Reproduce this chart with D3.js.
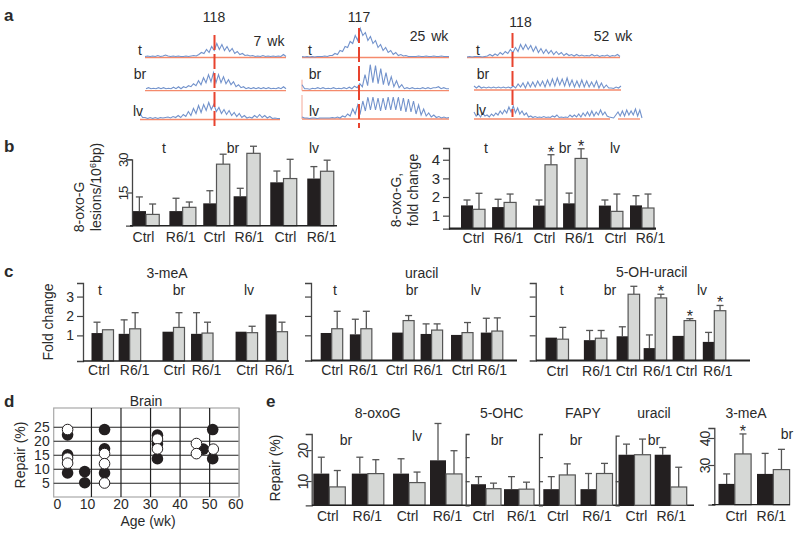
<!DOCTYPE html>
<html>
<head>
<meta charset="utf-8">
<script src="https://cdn.jsdelivr.net/npm/d3@7"></script>
<style>
  html, body { margin: 0; background: #fff; }
  text { font-family: "Liberation Sans", Arial, sans-serif; fill: #2a2a2a; }
</style>
</head>
<body>
<div id="chart"></div>
<script>
// ---- data ----
const groups = ["Ctrl", "R6/1", "Ctrl", "R6/1", "Ctrl", "R6/1"];
const groups2 = ["Ctrl", "R6/1"];

// a: peak traces, signal above baseline
const a1t = [1,1.5,1,1.5,1,2,1,1.5,2.5,1.5,1,1.5,1,1.5,1,1,1.5,1,1.5,2,1.5,3,5,4,8,5,11,7,14,8,13,7,11,6,9,4,6,3,4,2,2.5,1.5,2,1,1.5,1,2,1,1.5,1,1.5,1,1.5,1,3,1];
const a1b = [2,3,2,2.5,2,3,2,3,2,2.5,2,3.5,2,4,2,4,3,5,4,7,5,10,6,13,8,16,9,18,8,16,8,14,7,11,6,9,4,6,3,4,2,3,2,3,2,3,2,3,2,3,2,2.5,2,3,2,4,2];
const a1l = [6,2,2,1,2,1,2,1,2,1.5,2,2.5,1.5,3,2,4,2,5,3,8,4,11,6,14,7,15,9,17,10,15,8,12,6,10,5,9,4,7,3,6,2,4,1.5,2.5,1.5,4,2,5,2,4,1.5,3,1,1.5,1,1];
const a2t = [1,0.5,1,0.5,1,0.5,1,1,1,1.5,1,2,2,4,3,7,6,11,10,16,14,22,17,29,22,25,17,21,14,17,10,13,7,10,5,7,3,5,2,3,1.5,2,1,1,1,1,1.5,1,1,1.5,1,1,1.5,1,1,1.5,1,1,1];
const a2b = [6,2,2,1.5,2.5,2,3,2,3,2,2.5,2,3,2,2.5,2,3,2,3.5,2,4.5,3,7,4,16,5,26,8,25,7,22,6,18,5,14,4,10,3,6,2,3,2,3,2,2.5,2,3,2,3,2,3,3,4,2,3,2,2];
const a2l = [2,1,1,0.5,1,1,0.5,1,1,1,1,1,1.5,1,2,1,3,2,5,3,10,5,14,6,18,8,22,9,22,9,21,8,21,9,22,9,22,9,22,8,21,7,20,7,18,5,14,4,10,3,6,2,4,1.5,2.5,1,2,1,1.5];
const a3t = [0.5,1,0.5,1,1,1,0.5,1,1.5,3,1.5,3.5,2,5,3,6,4,8,5,10,6,13,8,13,8,12,6,11,5,9,4,8,4,7,3,6,3,5,2,4,2,3,1.5,3,1.5,2.5,1.5,2,1.5,3,1.5,2.5,1,2,1.5,2.5,1,2,1.5,3,1];
const a3b = [4,2,4,2,3,2,3,2,3,2,3,2,3,2,3,2,4,2,6,3,7,2,8,3,8,3,9,4,9,3,10,4,11,4,12,5,11,4,12,4,10,3,9,3,10,3,9,3,8,3,9,2,7,2,5,2,2,1.5,3,2,4];
const a3l = [7,3,5,2,6,3,4,2,5,3,6,4,8,5,9,6,12,7,13,6,11,5,8,4,6,2,3,1.5,2.5,1.5,2,1.5,2.5,1.5,2,1.5,3,2,4,1.5,2,1.5,2,1.5,4,2,4,2,5,2,6,3,7,3,8,3,7,4,9,4,7,3,2,1.5,1,4,7,3,8,3,9,4,8,4,10,3,9,1];

// b: 8-oxo-G lesions
const b1Black = [6.6,6.6,10.1,13.3,19.6,21.3];
const b1BlackErr = [13,12.4,15.8,16.9,24.7,26.7];
const b1Gray = [5.1,8.3,27.8,32.7,21.3,24.6];
const b1GrayErr = [9.8,10.7,32.3,35.9,30,29.6];
// b: fold change
const b2Black = [1.55,1.46,1.54,1.66,1.54,1.55];
const b2BlackErr = [1.84,1.88,1.84,2.21,1.84,2.07];
const b2Gray = [1.34,1.71,3.73,4.07,1.23,1.41];
const b2GrayErr = [2.2,2.16,4.27,4.59,2.16,2.16];
const b2Stars = [0,0,1,1,0,0];

// c: 3-meA, uracil, 5-OH-uracil (null = no error bar printed)
const c1Black = [1.12,1.08,1.19,1.08,1.19,2.08];
const c1BlackErr = [1.68,1.8,null,2.17,null,null];
const c1Gray = [1.29,1.34,1.41,1.12,1.14,1.19];
const c1GrayErr = [null,2.17,2.17,1.68,1.47,1.68];
const c2Black = [1.12,1.05,1.14,1.07,1.02,1.14];
const c2BlackErr = [null,1.83,null,1.59,null,1.88];
const c2Gray = [1.34,1.34,1.76,1.27,1.14,1.22];
const c2GrayErr = [2.24,2.24,2.02,1.59,1.66,1.9];
const c3Black = [0.88,0.75,0.95,0.34,0.97,0.66];
const c3BlackErr = [null,1.25,1.44,1.02,null,1.15];
const c3Gray = [0.8,0.85,3.12,2.93,1.76,2.27];
const c3GrayErr = [1.41,1.25,3.53,3.12,1.86,2.54];
const c3Stars = [0,0,0,1,1,1];

// d: repair vs age
const dBlackWk = [2.1,2.1,2.1,7.9,7.9,14.6,14.6,14.6,32.5,32.5,32.5,48,51.2,51.2];
const dBlackRepair = [22.1,15,8.5,9,5,24,17.1,8.5,22,18.8,13.6,17,24,13.6];
const dWhiteWk = [2.1,2.1,2.1,14.6,14.6,14.6,32.5,32.5,45.7,45.7,51.4];
const dWhiteRepair = [24,13.8,12,15.4,11.8,4.9,20.6,17.1,19,15.4,17];

// e: repair per substrate
const e1Black = [12.4,12.4,12.4,16.7];
const e1BlackErr = [17.7,17.7,17.2,28.6];
const e1Gray = [8.1,12.4,9.5,12.3];
const e1GrayErr = [13.4,16.9,12.9,19.8];
const e2Black = [8.75,6.7];
const e2BlackErr = [11.9,11.9];
const e2Gray = [6.9,6.7];
const e2GrayErr = [9.2,9.6];
const e3Black = [6.7,6.7];
const e3BlackErr = [11.9,13.2];
const e3Gray = [12.6,13.2];
const e3GrayErr = [17.2,17.4];
const e4Black = [21,21];
const e4BlackErr = [25.4,24];
const e4Gray = [21,7.6];
const e4GrayErr = [27.5,15.8];
const e5Black = [23,26.7];
const e5BlackErr = [26.7,34.3];
const e5Gray = [34.1,28.3];
const e5GrayErr = [41.5,35.8];
const e5Stars = [1,0];

// ---- page ----
const svg = d3.select("#chart").append("svg")
  .attr("width", 800)
  .attr("height", 534)
  .style("display", "block");

function label(txt, x, y, opts) {
  opts = opts || {};
  const t = svg.append("text")
    .attr("text-anchor", opts.anchor || "middle")
    .style("font-size", (opts.size || 14) + "px")
    .style("font-weight", opts.bold ? "bold" : "normal")
    .attr("transform", "translate(" + x + "," + y + ")" + (opts.rot ? "rotate(-90)" : ""))
    .text(txt);
  return t;
}

// panel letters
label("a", 4, 21, {anchor: "start", size: 17, bold: true});
label("b", 4, 152, {anchor: "start", size: 17, bold: true});
label("c", 4, 277, {anchor: "start", size: 17, bold: true});
label("d", 4, 407, {anchor: "start", size: 17, bold: true});
label("e", 266, 407, {anchor: "start", size: 17, bold: true});

// ---- panel a ----
const traces = [
  {data: a1t, x: [145, 286], base: 57.5, line: [145, 286]},
  {data: a1b, x: [146, 286], base: 90.7, line: [145, 286]},
  {data: a1l, x: [140, 280], base: 119.5, line: [140, 280]},
  {data: a2t, x: [302, 449], base: 57.5, line: [302, 449]},
  {data: a2b, x: [302, 449], base: 90.7, line: [302, 449], spike: 11},
  {data: a2l, x: [302, 449], base: 119, line: [302, 449], spike: 24},
  {data: a3t, x: [467, 620], base: 57.5, line: [467, 620]},
  {data: a3b, x: [474, 621], base: 90, line: [474, 621]},
  {data: a3l, x: [474, 642], base: 119, line: [474, 610]},
  {data: [], x: [0, 1], base: 119, line: [618, 640]}
];
traces.forEach(function(tr) {
  const x = d3.scaleLinear().domain([0, Math.max(tr.data.length - 1, 1)]).range(tr.x);
  const y = d3.scaleLinear().domain([0, 30]).range([tr.base, tr.base - 30]);
  svg.append("line")
    .attr("x1", tr.line[0]).attr("x2", tr.line[1])
    .attr("y1", y(0)).attr("y2", y(0))
    .attr("stroke", "#f58a6c").attr("stroke-width", 1.3);
  if (tr.spike) {
    svg.append("line")
      .attr("x1", tr.x[0]).attr("x2", tr.x[0])
      .attr("y1", y(0)).attr("y2", y(tr.spike))
      .attr("stroke", "#f4a898").attr("stroke-width", 1);
  }
  svg.append("path")
    .datum(tr.data)
    .attr("d", d3.line().x(function(d, i) { return x(i); }).y(function(d) { return y(d); }))
    .attr("fill", "none")
    .attr("stroke", "#7393cc")
    .attr("stroke-width", 1.1);
});

[[214.5, 35, 128], [359, 28, 128], [512.5, 33, 117]].forEach(function(v) {
  svg.append("line")
    .attr("x1", v[0]).attr("x2", v[0])
    .attr("y1", v[1]).attr("y2", v[2])
    .attr("stroke", "#e8432e")
    .attr("stroke-width", 2)
    .attr("stroke-dasharray", "15 4");
});

label("118", 214, 22);
label("117", 359, 22);
label("118", 520.5, 27);
label("7 wk", 269, 46).style("word-spacing", "2px");
label("25 wk", 429, 41).style("word-spacing", "2px");
label("52 wk", 613, 41).style("word-spacing", "2px");
[[140, 55, "t"], [140, 79, "br"], [138, 116, "lv"],
 [310, 55, "t"], [315, 79, "br"], [314, 116, "lv"],
 [478, 55, "t"], [483, 79, "br"], [481, 115, "lv"]].forEach(function(l) {
  label(l[2], l[0], l[1]);
});

// ---- bar panels ----
function barPanel(p) {
  const n = p.black.length;
  const last = p.slots[p.slots.length - 1];
  const x = d3.scaleLinear().domain([0, last]).range(p.centers);
  const y = d3.scaleLinear().domain(p.yDomain).range(p.yRange);
  const side = d3.scaleBand().domain(["black", "gray"]).range([-p.half, p.half]);
  const g = svg.append("g");

  // error bars sit behind the bars
  [["black", p.blackErr, p.black], ["gray", p.grayErr, p.gray]].forEach(function(s) {
    d3.range(n).forEach(function(i) {
      if (s[1][i] === null) return;
      const cx = x(p.slots[i]) + side(s[0]) + side.bandwidth() / 2;
      g.append("line").attr("x1", cx).attr("x2", cx)
        .attr("y1", y(s[2][i])).attr("y2", y(s[1][i]))
        .attr("stroke", "#555").attr("stroke-width", 1.3);
      g.append("line").attr("x1", cx - 3.5).attr("x2", cx + 3.5)
        .attr("y1", y(s[1][i])).attr("y2", y(s[1][i]))
        .attr("stroke", "#555").attr("stroke-width", 1.3);
    });
  });

  d3.range(n).forEach(function(i) {
    const x0 = x(p.slots[i]);
    g.append("rect")
      .attr("x", x0 + side("black")).attr("y", y(p.black[i]))
      .attr("width", side.bandwidth()).attr("height", y(p.yDomain[0]) - y(p.black[i]))
      .attr("fill", "#231f20");
    g.append("rect")
      .attr("x", x0 + side("gray")).attr("y", y(p.gray[i]))
      .attr("width", side.bandwidth()).attr("height", y(p.yDomain[0]) - y(p.gray[i]))
      .attr("fill", "#d6d8d6").attr("stroke", "#555").attr("stroke-width", 1.2);
    if (p.stars && p.stars[i]) {
      g.append("text")
        .attr("x", x0 + side("gray") + side.bandwidth() / 2)
        .attr("y", y(p.grayErr[i]) + 3)
        .attr("text-anchor", "middle")
        .style("font-size", "16px")
        .text("*");
    }
  });

  // y axis
  const axisFn = p.axisRight ? d3.axisRight(y) : d3.axisLeft(y);
  const ax = g.append("g")
    .attr("transform", "translate(" + p.axisX + ",0)")
    .call(axisFn.tickValues(p.ticks).tickSizeOuter(0).tickSize(p.tickSize || 6).tickPadding(3)
      .tickFormat(p.tickLabels ? d3.format("d") : ""));
  ax.selectAll("line").attr("stroke", "#444").attr("stroke-width", 1.2);
  ax.select(".domain").attr("stroke", "#444").attr("stroke-width", 1.3);
  ax.selectAll("text")
    .style("font-size", (p.tickFont || 14) + "px")
    .attr("fill", null);
  if (p.rotTicks) {
    ax.selectAll("text")
      .attr("x", null).attr("dy", null)
      .attr("text-anchor", "middle")
      .attr("transform", "translate(" + p.rotTicks + ",0)rotate(-90)");
  }

  // baseline
  g.append("line")
    .attr("x1", p.baseX[0]).attr("x2", p.baseX[1])
    .attr("y1", y(p.yDomain[0])).attr("y2", y(p.yDomain[0]))
    .attr("stroke", "#222").attr("stroke-width", p.baseW || 2);

  // category labels
  const cats = g.append("g")
    .attr("transform", "translate(0," + p.labelY + ")")
    .call(d3.axisBottom(x).tickValues(p.slots).tickSize(0).tickPadding(0)
      .tickFormat(function(d, i) { return (n === 6 ? groups : n === 4 ? groups.slice(0, 4) : groups2)[i]; }));
  cats.select(".domain").remove();
  cats.selectAll("text")
    .attr("dy", 0).attr("y", 0)
    .attr("dx", function(d, i) { return p.labelDx[i]; })
    .attr("fill", null)
    .style("font-size", "14px");
}

// layout: slot positions between the first and last group, in group steps
barPanel({
  black: b1Black, blackErr: b1BlackErr, gray: b1Gray, grayErr: b1GrayErr,
  slots: [0,1.05,2.02,2.89,3.94,5], centers: [146, 320.5], half: 13.25,
  yDomain: [0, 30], yRange: [225.7, 159.3], axisX: 132, ticks: [15, 30], tickLabels: true, rotTicks: -4, tickFont: 13,
  baseX: [130, 337], baseW: 1.4, labelY: 241.7, labelDx: [-3,-2.5,-2.5,2,1.5,0.5]
});
barPanel({
  black: b2Black, blackErr: b2BlackErr, gray: b2Gray, grayErr: b2GrayErr, stars: b2Stars,
  slots: [0,0.92,2.13,3.02,4.08,5], centers: [473, 642], half: 12,
  yDomain: [0.3, 4.63], yRange: [228.7, 148], axisX: 449, ticks: [1,2,3,4], tickLabels: true, tickFont: 15,
  baseX: [449, 656], baseW: 2.2, labelY: 243, labelDx: [0,4,-1,4,4,8]
});
barPanel({
  black: c1Black, blackErr: c1BlackErr, gray: c1Gray, grayErr: c1GrayErr,
  slots: [0,0.78,2.04,2.86,4.14,5], centers: [102.5, 276.5], half: 11,
  yDomain: [-0.32, 3.7], yRange: [361, 283], axisX: 83, ticks: [1,2,3], tickLabels: true,
  baseX: [83, 289], baseW: 1.4, labelY: 375, labelDx: [-4,4.5,0.5,4,0,2.5]
});
barPanel({
  black: c2Black, blackErr: c2BlackErr, gray: c2Gray, grayErr: c2GrayErr,
  slots: [0,0.91,2.23,3.12,4.07,5], centers: [331.7, 491.8], half: 11,
  yDomain: [-0.3, 3.7], yRange: [360.5, 283], axisX: 311, ticks: [1,2,3],
  baseX: [311, 517], baseW: 2.2, labelY: 375, labelDx: [0,2,-7,-4,0,0]
});
barPanel({
  black: c3Black, blackErr: c3BlackErr, gray: c3Gray, grayErr: c3GrayErr, stars: c3Stars,
  slots: [0,1.22,2.26,3.12,4.04,5], centers: [557, 714.3], half: 11.5,
  yDomain: [-0.3, 3.7], yRange: [360.5, 283], axisX: 535.7, ticks: [1,2,3],
  baseX: [536, 750], baseW: 2.2, labelY: 376, labelDx: [0,1,-2,2,2,3]
});
barPanel({
  black: e1Black, blackErr: e1BlackErr, gray: e1Gray, grayErr: e1GrayErr,
  slots: [0,0.99,2.05,3], centers: [329.3, 446], half: 16,
  yDomain: [2.16, 25.2], yRange: [505.3, 434], axisX: 311.7, ticks: [10, 20], tickLabels: true, rotTicks: -4,
  baseX: [312, 694], baseW: 1.4, labelY: 521, labelDx: [-2,-1,-2,1]
});
barPanel({
  black: e2Black, blackErr: e2BlackErr, gray: e2Gray, grayErr: e2GrayErr,
  slots: [0,1], centers: [486, 519], half: 15,
  yDomain: [0, 29.6], yRange: [505.3, 434], axisX: 465.7, ticks: [10, 20], axisRight: true, tickSize: 4,
  baseX: [466, 466], baseW: 1.4, labelY: 521, labelDx: [-3,2]
});
barPanel({
  black: e3Black, blackErr: e3BlackErr, gray: e3Gray, grayErr: e3GrayErr,
  slots: [0,1], centers: [559.3, 596.5], half: 16,
  yDomain: [0, 29.6], yRange: [505.3, 434], axisX: 539, ticks: [10, 20], axisRight: true, tickSize: 4,
  baseX: [539, 539], baseW: 1.4, labelY: 521, labelDx: [-2,0]
});
barPanel({
  black: e4Black, blackErr: e4BlackErr, gray: e4Gray, grayErr: e4GrayErr,
  slots: [0,1], centers: [634.5, 670.7], half: 16,
  yDomain: [0, 28.9], yRange: [505.3, 435.7], axisX: 615.7, ticks: [10], axisRight: true, tickSize: 4,
  baseX: [616, 616], baseW: 1.4, labelY: 521, labelDx: [1.5,0]
});
barPanel({
  black: e5Black, blackErr: e5BlackErr, gray: e5Gray, grayErr: e5GrayErr, stars: e5Stars,
  slots: [0,1], centers: [734.8, 773.3], half: 16.3,
  yDomain: [15.3, 43.7], yRange: [504.7, 428], axisX: 714.3, ticks: [30, 40], tickLabels: true, rotTicks: -4,
  baseX: [712, 790], baseW: 1.2, labelY: 521, labelDx: [1,-2.5]
});

// panel b text
label("8-oxo-G", 84, 207, {rot: true});
const les = label("lesions/10", 100.7, 187, {rot: true});
les.append("tspan").attr("dy", -5).style("font-size", "9px").text("6");
les.append("tspan").attr("dy", 5).text("bp)");
[[164, "t"], [233, "br"], [314, "lv"], [486, "t"], [565, "br"], [615, "lv"]].forEach(function(l) {
  label(l[1], l[0], 153);
});
label("8-oxo-G,", 401, 200, {rot: true});
label("fold change", 418, 190, {rot: true});

// panel c text
label("Fold change", 53, 322, {rot: true});
label("3-meA", 167, 278);
label("uracil", 421.7, 278);
label("5-OH-uracil", 651.7, 277);
[[100, "t"], [179, "br"], [249, "lv"], [335, "t"], [412, "br"], [475.7, "lv"],
 [561.7, "t"], [610, "br"], [702, "lv"]].forEach(function(l) {
  label(l[1], l[0], 295);
});

// panel e text
label("Repair (%)", 280, 468, {rot: true});
label("8-oxoG", 377.7, 418);
label("5-OHC", 501.7, 418);
label("FAPY", 583, 418);
label("uracil", 654, 418);
label("3-meA", 746, 418);
[[346, 445, "br"], [417, 441, "lv"], [497, 445, "br"], [576, 445, "br"], [654, 445, "br"], [787, 439, "br"]].forEach(function(l) {
  label(l[2], l[0], l[1]);
});

// ---- panel d ----
const dx = d3.scaleLinear().domain([-2.6, 60]).range([53.7, 238.7]);
const dy = d3.scaleLinear().domain([-0.1, 31.7]).range([497, 408]);
const dg = svg.append("g");

dg.append("rect")
  .attr("x", 53.7).attr("y", 408)
  .attr("width", 185.3).attr("height", 89)
  .attr("fill", "none").attr("stroke", "#a8a8a8").attr("stroke-width", 1.2);

const dAxisY = dg.append("g")
  .attr("transform", "translate(53.7,0)")
  .call(d3.axisLeft(dy).tickValues([5,10,15,20,25]).tickSize(-185).tickSizeOuter(0).tickPadding(4));
dAxisY.select(".domain").remove();
dAxisY.selectAll("line").attr("stroke", "#222").attr("stroke-width", 1.2);
dAxisY.selectAll("text").style("font-size", "14px").attr("fill", null);

const dAxisX = dg.append("g")
  .attr("transform", "translate(0,497)")
  .call(d3.axisBottom(dx).tickValues([0,10,20,30,40,50,60]).tickSize(-89).tickSizeOuter(0).tickPadding(2));
dAxisX.select(".domain").remove();
dAxisX.selectAll("line").attr("stroke", function(d) { return d === 0 ? "none" : d === 60 ? "#a8a8a8" : "#222"; }).attr("stroke-width", 1.2);
dAxisX.selectAll("text").style("font-size", "14px").attr("fill", null)
  .attr("dx", function(d) { return d === 0 ? -4.5 : d === 10 ? -4 : d === 60 ? -3.5 : 0; });

dg.selectAll("circle.blk")
  .data(d3.zip(dBlackWk, dBlackRepair))
  .enter().append("circle")
  .attr("class", "blk")
  .attr("cx", function(d) { return dx(d[0]); })
  .attr("cy", function(d) { return dy(d[1]); })
  .attr("r", 5.8)
  .attr("fill", "#231f20");
dg.selectAll("circle.wht")
  .data(d3.zip(dWhiteWk, dWhiteRepair))
  .enter().append("circle")
  .attr("class", "wht")
  .attr("cx", function(d) { return dx(d[0]); })
  .attr("cy", function(d) { return dy(d[1]); })
  .attr("r", 5.3)
  .attr("fill", "#fff")
  .attr("stroke", "#231f20")
  .attr("stroke-width", 1);

label("Brain", 146, 406);
label("Repair (%)", 25, 455, {rot: true});
label("Age (wk)", 148, 526);
</script>
</body>
</html>
